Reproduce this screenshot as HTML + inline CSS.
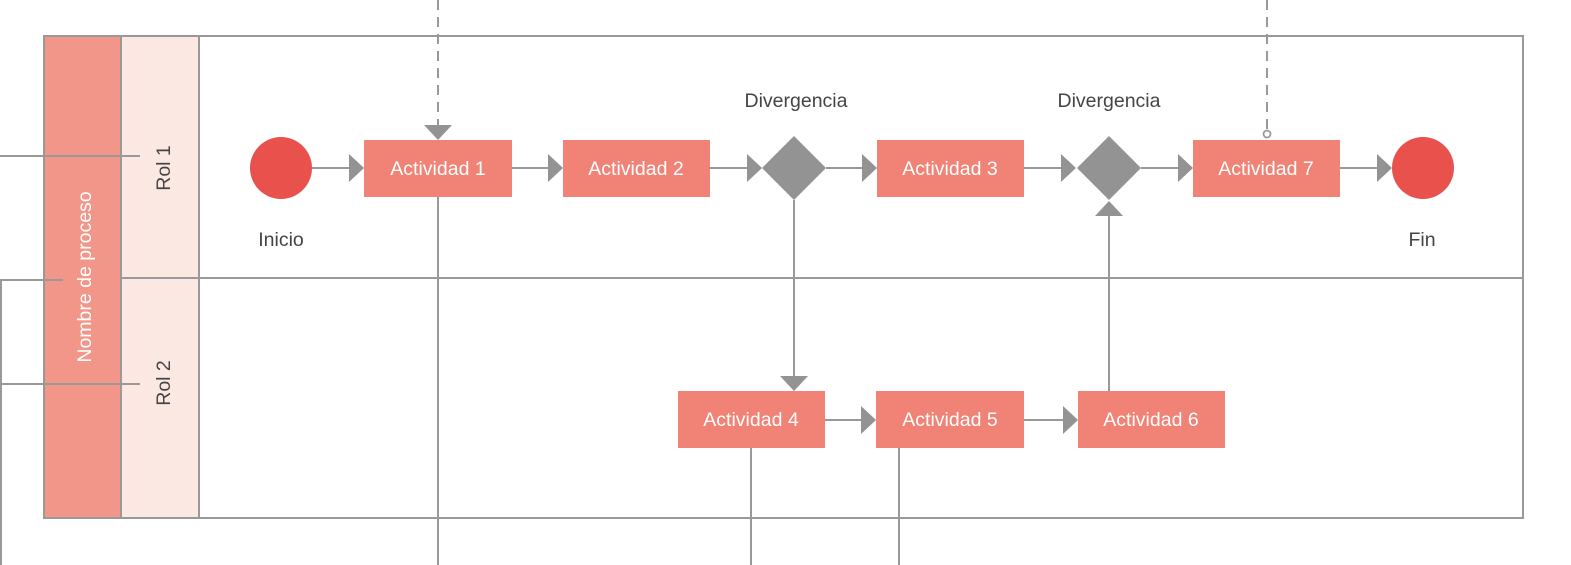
<!DOCTYPE html>
<html><head><meta charset="utf-8"><style>
html,body{margin:0;padding:0;background:#fff;width:1571px;height:565px;overflow:hidden}
svg text{font-family:"Liberation Sans",sans-serif}
</style></head><body>
<svg width="1571" height="565" viewBox="0 0 1571 565" xmlns="http://www.w3.org/2000/svg">
<rect x="0" y="0" width="1571" height="565" fill="#fff"/>
<rect x="44" y="36" width="77" height="482" fill="#f2968a"/>
<rect x="121" y="36" width="78" height="482" fill="#fce8e3"/>
<g stroke="#999" stroke-width="2" fill="none">
<rect x="44" y="36" width="1479" height="482"/>
<line x1="121" y1="36" x2="121" y2="518"/>
<line x1="199" y1="36" x2="199" y2="518"/>
<line x1="122" y1="278" x2="1523" y2="278"/>
<line x1="0" y1="156" x2="140" y2="156"/>
<line x1="0" y1="384" x2="140" y2="384"/>
<polyline points="63,280 1,280 1,565"/>
<line x1="438" y1="197" x2="438" y2="565"/>
<line x1="438" y1="0" x2="438" y2="125" stroke-dasharray="10,7"/>
<line x1="1267" y1="0" x2="1267" y2="130" stroke-dasharray="10,7"/>
<line x1="794" y1="200" x2="794" y2="377"/>
<line x1="1109" y1="448" x2="1109" y2="215"/>
<line x1="751" y1="448" x2="751" y2="565"/>
<line x1="899" y1="448" x2="899" y2="565"/>
<line x1="312" y1="168" x2="350" y2="168"/>
<line x1="512" y1="168" x2="549" y2="168"/>
<line x1="710" y1="168" x2="748" y2="168"/>
<line x1="826" y1="168" x2="863" y2="168"/>
<line x1="1024" y1="168" x2="1062" y2="168"/>
<line x1="1141" y1="168" x2="1179" y2="168"/>
<line x1="1340" y1="168" x2="1378" y2="168"/>
<line x1="825" y1="420" x2="862" y2="420"/>
<line x1="1024" y1="420" x2="1064" y2="420"/>
<circle cx="1267" cy="134" r="3.5" stroke-width="1.8"/>
</g>
<g fill="#939393">
<polygon points="349,154 364,168 349,182"/>
<polygon points="548,154 563,168 548,182"/>
<polygon points="747,154 762,168 747,182"/>
<polygon points="862,154 877,168 862,182"/>
<polygon points="1061,154 1076,168 1061,182"/>
<polygon points="1178,154 1193,168 1178,182"/>
<polygon points="1377,154 1392,168 1377,182"/>
<polygon points="861,406 876,420 861,434"/>
<polygon points="1063,406 1078,420 1063,434"/>
<polygon points="424,125 452,125 438,140"/>
<polygon points="780,376 808,376 794,391"/>
<polygon points="1095,216 1123,216 1109,201"/>
<polygon points="794,136 826,168 794,200 762,168"/>
<polygon points="1109,136 1141,168 1109,200 1077,168"/>
</g>
<circle cx="281" cy="168" r="31" fill="#e9514c"/>
<circle cx="1423" cy="168" r="31" fill="#e9514c"/>
<g fill="#f08276">
<rect x="364" y="140" width="148" height="57"/>
<rect x="563" y="140" width="147" height="57"/>
<rect x="877" y="140" width="147" height="57"/>
<rect x="1193" y="140" width="147" height="57"/>
<rect x="678" y="391" width="147" height="57"/>
<rect x="876" y="391" width="148" height="57"/>
<rect x="1078" y="391" width="147" height="57"/>
</g>
<g fill="#fff" font-size="19.5" text-anchor="middle">
<text x="438" y="175">Actividad 1</text>
<text x="636" y="175">Actividad 2</text>
<text x="950" y="175">Actividad 3</text>
<text x="1266" y="175">Actividad 7</text>
<text x="751" y="426">Actividad 4</text>
<text x="950" y="426">Actividad 5</text>
<text x="1151" y="426">Actividad 6</text>
<text transform="translate(91,277) rotate(-90)" font-size="19.5">Nombre de proceso</text>
</g>
<g fill="#444" font-size="19.5" text-anchor="middle">
<text x="796" y="107">Divergencia</text>
<text x="1109" y="107">Divergencia</text>
<text x="281" y="246">Inicio</text>
<text x="1422" y="246">Fin</text>
<text transform="translate(170,168) rotate(-90)">Rol 1</text>
<text transform="translate(170,383) rotate(-90)">Rol 2</text>
</g>
</svg>
</body></html>
